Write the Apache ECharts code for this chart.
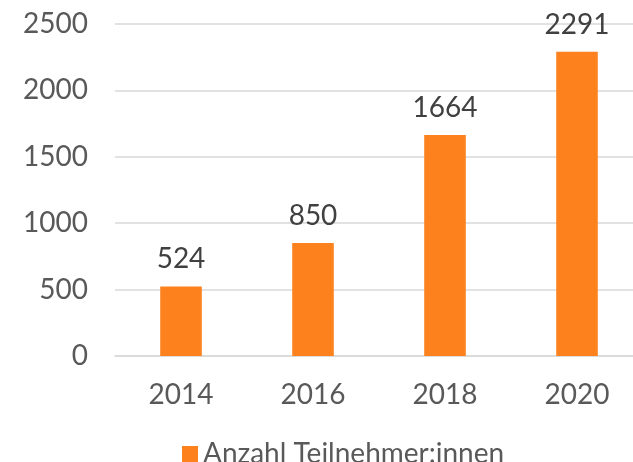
<!DOCTYPE html>
<html>
<head>
<meta charset="utf-8">
<script src="https://cdn.jsdelivr.net/npm/echarts@6/dist/echarts.min.js"></script>
<style>html,body{margin:0;padding:0;background:#fff;overflow:hidden;width:633px;height:462px;}#c{width:643px;height:462px;}</style>
</head>
<body>
<div id="c"></div>
<script>
const categories = ['2014', '2016', '2018', '2020'];
const values = [524, 850, 1664, 2291];
const seriesName = 'Anzahl Teilnehmer:innen';
const yTicks = [0, 500, 1000, 1500, 2000, 2500];

const FONT = 'Lato';
const chart = echarts.init(document.getElementById('c'), null, {renderer: 'canvas'});
chart.setOption({
  animation: false,
  backgroundColor: '#ffffff',
  textStyle: {fontFamily: FONT},
  grid: {left: 115, top: 24, right: 0, bottom: 106, containLabel: false},
  legend: {
    data: [seriesName],
    left: 177, top: 435,
    icon: 'rect', itemWidth: 16, itemHeight: 16, itemGap: 8,
    textStyle: {fontFamily: FONT, fontSize: 28, color: '#595959'}
  },
  xAxis: {
    type: 'category',
    data: categories,
    axisLine: {show: true, lineStyle: {color: '#d9d9d9', width: 1.5}},
    axisTick: {show: false},
    axisLabel: {fontFamily: FONT, fontSize: 28, color: '#595959', margin: 25}
  },
  yAxis: {
    type: 'value',
    min: yTicks[0], max: yTicks[yTicks.length - 1], interval: 500,
    axisLine: {show: false},
    axisTick: {show: false},
    splitLine: {lineStyle: {color: '#d9d9d9', width: 1.5}},
    axisLabel: {fontFamily: FONT, fontSize: 28, color: '#595959', margin: 27, formatter: v => String(v)}
  },
  series: [{
    name: seriesName,
    type: 'bar',
    data: values,
    barWidth: '31.5%',
    itemStyle: {color: '#fd821d'},
    label: {show: true, position: 'top', distance: 13, fontFamily: FONT, fontSize: 28, color: '#404040'}
  }]
});
</script>
</body>
</html>
